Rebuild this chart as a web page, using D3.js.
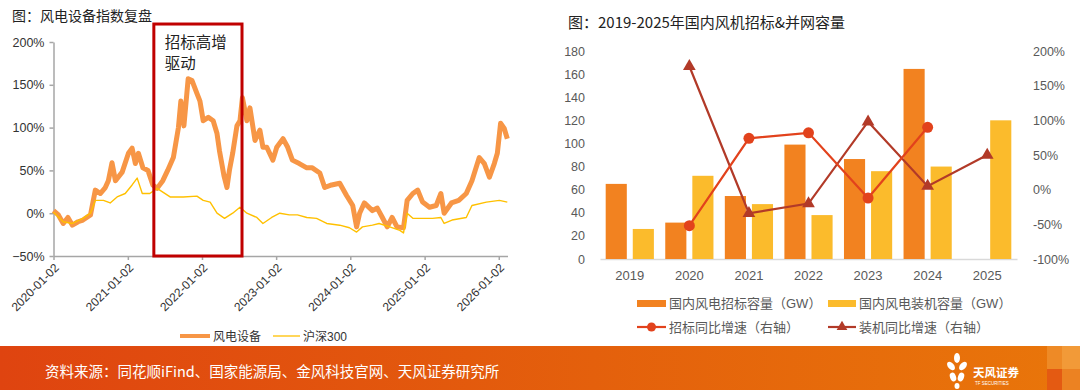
<!DOCTYPE html>
<html><head><meta charset="utf-8">
<script src="https://cdn.jsdelivr.net/npm/d3@7"></script>
<style>
body{margin:0;background:#fff;}
svg{display:block;font-family:"Liberation Sans",Arial,"Noto Sans CJK SC",sans-serif;}
</style>
</head><body>
<svg id="c" width="1080" height="390"></svg>
<script>
// ---------- Left chart data (cumulative return, %) ----------
const windDates = ["2020-01-02","2020-01-26","2020-02-19","2020-03-13","2020-04-04","2020-05-02","2020-05-26","2020-07-02","2020-07-26","2020-08-19","2020-09-13","2020-09-28","2020-10-16","2020-11-02","2020-12-05","2021-01-05","2021-01-23","2021-02-08","2021-02-23","2021-03-17","2021-04-11","2021-05-05","2021-05-26","2021-06-23","2021-07-17","2021-08-14","2021-09-08","2021-09-20","2021-10-05","2021-10-26","2021-11-14","2021-12-08","2021-12-23","2022-01-08","2022-02-02","2022-02-26","2022-03-17","2022-03-29","2022-04-20","2022-05-05","2022-05-17","2022-06-02","2022-06-23","2022-07-08","2022-07-20","2022-08-11","2022-08-26","2022-09-20","2022-10-14","2022-10-29","2022-11-17","2022-12-17","2023-01-05","2023-02-05","2023-02-28","2023-03-23","2023-04-26","2023-06-02","2023-06-29","2023-08-05","2023-08-29","2023-10-02","2023-11-11","2023-12-14","2024-01-14","2024-02-02","2024-02-17","2024-03-11","2024-04-20","2024-05-14","2024-06-08","2024-07-02","2024-07-26","2024-08-19","2024-09-20","2024-10-08","2024-11-05","2024-11-29","2024-12-23","2025-01-26","2025-02-28","2025-03-23","2025-04-08","2025-05-14","2025-06-19","2025-07-26","2025-08-23","2025-09-28","2025-10-23","2025-11-17","2025-12-11","2025-12-26","2026-01-11","2026-01-29","2026-02-13"];
const windValues = [3,-2,-12,-5,-14,-10,-8,-2,27,23,30,38,59,38,48,70,76,58,70,53,50,33,29,38,50,65,100,131,102,157,155,140,131,108,112,108,93,73,44,30,50,70,102,108,135,108,123,85,97,77,77,62,77,87,77,62,58,53,53,47,30,33,35,21,9,-16,0,12,3,6,-5,-16,-5,-16,-17,15,23,27,13,7,9,23,0,12,15,23,38,65,58,42,58,70,105,99,87];
const hsDates = ["2020-01-02","2020-02-19","2020-04-04","2020-05-26","2020-07-02","2020-07-26","2020-09-04","2020-10-07","2020-11-10","2020-12-20","2021-01-23","2021-02-17","2021-03-14","2021-04-20","2021-05-26","2021-07-29","2021-10-02","2021-12-08","2022-01-08","2022-02-11","2022-03-17","2022-04-23","2022-06-02","2022-07-08","2022-08-11","2022-09-29","2022-10-29","2022-12-11","2023-01-20","2023-03-08","2023-04-17","2023-06-02","2023-07-20","2023-09-08","2023-11-11","2023-12-29","2024-02-02","2024-03-02","2024-04-20","2024-05-23","2024-07-14","2024-09-02","2024-09-20","2024-10-08","2024-11-05","2024-12-23","2025-02-10","2025-03-23","2025-04-08","2025-05-17","2025-07-26","2025-08-23","2025-11-02","2026-01-05","2026-02-13"];
const hsValues = [1,-10,-12,-6,0,15,15,12,19,23,33,41,23,23,29,19,19,20,15,13,0,-6,0,7,0,-5,-12,-5,0,-2,-2,-5,-6,-12,-14,-17,-22,-16,-14,-12,-16,-20,-23,0,-6,-6,-6,-5,-12,-8,-5,9,13,15,13];
const leftYTicks = [-50,0,50,100,150,200];
const leftXTicks = ["2020-01-02","2021-01-02","2022-01-02","2023-01-02","2024-01-02","2025-01-02","2026-01-02"];
const leftTitle = "图：风电设备指数复盘";
const boxLabel = ["招标高增","驱动"];
const boxRange = ["2021-05-10","2022-07-18"];
const leftLegend = ["风电设备","沪深300"];

// ---------- Right chart data ----------
const years = ["2019","2020","2021","2022","2023","2024","2025"];
const tenderCap = [65,31.5,54.5,99,86.5,164.5,null];
const installCap = [26,72,47.5,38,76,80,120];
const tenderYoY = [null,-52,74,82,-12,90,null];
const installYoY = [null,178,-34,-20,98,5,50];
const rightYTicks = [0,20,40,60,80,100,120,140,160,180];
const rightY2Ticks = [-100,-50,0,50,100,150,200];
const rightTitle = "图：2019-2025年国内风机招标&并网容量";
const rightLegend = ["国内风电招标容量（GW）","国内风电装机容量（GW）","招标同比增速（右轴）","装机同比增速（右轴）"];
const sourceText = "资料来源：同花顺iFind、国家能源局、金风科技官网、天风证券研究所";

const svg = d3.select("#c");
const parse = d3.timeParse("%Y-%m-%d");
const pctFmt = d => (d < 0 ? "−" : "") + Math.abs(d) + "%";

// ================= LEFT CHART =================
const xL = d3.scaleTime().domain([parse("2020-01-02"), parse("2026-02-14")]).range([53.5, 507.5]);
const yL = d3.scaleLinear().domain([-50, 200]).range([256, 42]);

svg.append("text").attr("x", 12).attr("y", 21).attr("font-size", 14).attr("fill", "#222")
  .attr("font-family", "'Noto Sans CJK SC',sans-serif").text(leftTitle);

const gy = svg.append("g").attr("transform", "translate(53.5,0)")
  .call(d3.axisLeft(yL).tickValues(leftYTicks).tickFormat(pctFmt).tickSize(4).tickSizeOuter(0));
gy.selectAll("path,line").attr("stroke", "#a6a6a6").attr("stroke-width", 1.5);
gy.selectAll("text").attr("font-size", 12.5).attr("fill", "#333").attr("dx", "-2");

const gx = svg.append("g").attr("transform", "translate(0,256)")
  .call(d3.axisBottom(xL).tickValues(leftXTicks.map(parse)).tickFormat(d3.timeFormat("%Y-%m-%d")).tickSize(4).tickSizeOuter(0));
gx.selectAll("path,line").attr("stroke", "#a6a6a6").attr("stroke-width", 1.5);
gx.selectAll("text").attr("font-size", 12).attr("fill", "#333")
  .attr("text-anchor", "end").attr("transform", "rotate(-45)").attr("dx", "-0.4em").attr("dy", "0.5em");

const windData = windDates.map((d, i) => ({d: parse(d), v: windValues[i]}));
const hsData = hsDates.map((d, i) => ({d: parse(d), v: hsValues[i]}));
const lineL = d3.line().x(p => xL(p.d)).y(p => yL(p.v));

svg.append("path").datum(windData).attr("d", lineL).attr("fill", "none")
  .attr("stroke", "#f79646").attr("stroke-width", 5).attr("stroke-linejoin", "round");
svg.append("path").datum(hsData).attr("d", lineL).attr("fill", "none")
  .attr("stroke", "#ffc000").attr("stroke-width", 1.4).attr("stroke-linejoin", "round");

// red annotation box
const bx0 = xL(parse(boxRange[0])), bx1 = xL(parse(boxRange[1]));
svg.append("rect").attr("x", bx0).attr("y", yL(221)).attr("width", bx1 - bx0).attr("height", yL(-50) - yL(221))
  .attr("fill", "none").attr("stroke", "#c00000").attr("stroke-width", 3);
boxLabel.forEach((t, i) => {
  svg.append("text").attr("x", bx0 + 11).attr("y", 48 + i * 21).attr("font-size", 15.5).attr("fill", "#222").text(t);
});

// left legend
svg.append("line").attr("x1", 180).attr("x2", 210).attr("y1", 336).attr("y2", 336)
  .attr("stroke", "#f79646").attr("stroke-width", 4);
svg.append("text").attr("x", 213).attr("y", 340.5).attr("font-size", 12).attr("fill", "#333").text(leftLegend[0]);
svg.append("line").attr("x1", 273).attr("x2", 300).attr("y1", 336).attr("y2", 336)
  .attr("stroke", "#ffc000").attr("stroke-width", 1.3);
svg.append("text").attr("x", 303).attr("y", 340.5).attr("font-size", 12).attr("fill", "#333").text(leftLegend[1]);

// ================= RIGHT CHART =================
svg.append("text").attr("x", 568).attr("y", 28).attr("font-size", 15).attr("fill", "#222")
  .attr("font-family", "'Noto Sans CJK SC',sans-serif").text(rightTitle);

const xR = d3.scaleBand().domain(years).range([600, 1017]);
const xi = d3.scaleBand().domain(["t", "i"]).range([0, xR.bandwidth()]).paddingInner(0.22).paddingOuter(0.21);
const yR = d3.scaleLinear().domain([0, 180]).range([259, 51]);
const yR2 = d3.scaleLinear().domain([-100, 200]).range([259, 51]);

const gyr = svg.append("g").attr("transform", "translate(591,0)")
  .call(d3.axisLeft(yR).tickValues(rightYTicks).tickSize(0));
gyr.select(".domain").remove();
gyr.selectAll("text").attr("font-size", 12.5).attr("fill", "#595959").attr("dx", "-3");

const gyr2 = svg.append("g").attr("transform", "translate(1027,0)")
  .call(d3.axisRight(yR2).tickValues(rightY2Ticks).tickFormat(d => d + "%").tickSize(0));
gyr2.select(".domain").remove();
gyr2.selectAll("text").attr("font-size", 12.5).attr("fill", "#595959").attr("dx", "3");

const gxr = svg.append("g").attr("transform", "translate(0,259)")
  .call(d3.axisBottom(xR).tickSize(0));
gxr.select(".domain").attr("stroke", "#d9d9d9").attr("stroke-width", 1.5);
gxr.selectAll("text").attr("font-size", 13).attr("fill", "#595959").attr("dy", "1.4em");

// bars
svg.append("g").selectAll("rect").data(years.filter((y, i) => tenderCap[i] != null)).join("rect")
  .attr("x", y => xR(y) + xi("t")).attr("width", xi.bandwidth())
  .attr("y", y => yR(tenderCap[years.indexOf(y)])).attr("height", y => yR(0) - yR(tenderCap[years.indexOf(y)]))
  .attr("fill", "#f28220");
svg.append("g").selectAll("rect").data(years).join("rect")
  .attr("x", y => xR(y) + xi("i")).attr("width", xi.bandwidth())
  .attr("y", (y, i) => yR(installCap[i])).attr("height", (y, i) => yR(0) - yR(installCap[i]))
  .attr("fill", "#fbbb2c");

// lines
const cx = y => xR(y) + xR.bandwidth() / 2;
const tData = years.map((y, i) => ({y, v: tenderYoY[i]})).filter(d => d.v != null);
const iData = years.map((y, i) => ({y, v: installYoY[i]})).filter(d => d.v != null);
const lineR = d3.line().x(d => cx(d.y)).y(d => yR2(d.v));

svg.append("path").datum(iData).attr("d", lineR).attr("fill", "none").attr("stroke", "#b23a28").attr("stroke-width", 2.2);
svg.append("g").selectAll("path").data(iData).join("path")
  .attr("d", d3.symbol(d3.symbolTriangle).size(70))
  .attr("transform", d => `translate(${cx(d.y)},${yR2(d.v)})`).attr("fill", "#b23a28");

svg.append("path").datum(tData).attr("d", lineR).attr("fill", "none").attr("stroke", "#e2421c").attr("stroke-width", 2.2);
svg.append("g").selectAll("circle").data(tData).join("circle")
  .attr("cx", d => cx(d.y)).attr("cy", d => yR2(d.v)).attr("r", 5.5).attr("fill", "#e2421c");

// right legend
const lg = svg.append("g").attr("font-size", 13).attr("fill", "#595959");
lg.append("rect").attr("x", 637).attr("y", 300).attr("width", 29).attr("height", 7).attr("fill", "#f28220");
lg.append("text").attr("x", 669).attr("y", 308).text(rightLegend[0]);
lg.append("rect").attr("x", 828).attr("y", 300).attr("width", 28).attr("height", 7).attr("fill", "#fbbb2c");
lg.append("text").attr("x", 859).attr("y", 308).text(rightLegend[1]);
lg.append("line").attr("x1", 637).attr("x2", 666).attr("y1", 327).attr("y2", 327).attr("stroke", "#e2421c").attr("stroke-width", 2.2);
lg.append("circle").attr("cx", 651.5).attr("cy", 327).attr("r", 4.5).attr("fill", "#e2421c");
lg.append("text").attr("x", 669).attr("y", 332).text(rightLegend[2]);
lg.append("line").attr("x1", 828).attr("x2", 856).attr("y1", 327).attr("y2", 327).attr("stroke", "#b23a28").attr("stroke-width", 2.2);
lg.append("path").attr("d", d3.symbol(d3.symbolTriangle).size(50)).attr("transform", "translate(842,327)").attr("fill", "#b23a28");
lg.append("text").attr("x", 859).attr("y", 332).text(rightLegend[3]);

// ================= FOOTER =================
const defs = svg.append("defs");
const grad = defs.append("linearGradient").attr("id", "fg").attr("x1", "0").attr("x2", "1").attr("y1", "0").attr("y2", "0");
grad.append("stop").attr("offset", "0%").attr("stop-color", "#df4410");
grad.append("stop").attr("offset", "55%").attr("stop-color", "#e4600c");
grad.append("stop").attr("offset", "100%").attr("stop-color", "#e9760a");
svg.append("rect").attr("x", 0).attr("y", 346).attr("width", 1080).attr("height", 44).attr("fill", "url(#fg)");
svg.append("rect").attr("x", 1047).attr("y", 346).attr("width", 15).attr("height", 23).attr("fill", "#ee8a26");
svg.append("rect").attr("x", 1062).attr("y", 346).attr("width", 18).attr("height", 23).attr("fill", "#f29a38");
svg.append("rect").attr("x", 1047).attr("y", 369).attr("width", 15).attr("height", 21).attr("fill", "#e45a12");
svg.append("rect").attr("x", 1062).attr("y", 369).attr("width", 18).attr("height", 21).attr("fill", "#ec8222");

svg.append("text").attr("x", 45).attr("y", 377).attr("font-size", 14.5).attr("fill", "#fff")
  .attr("font-family", "'Noto Sans CJK SC',sans-serif").text(sourceText);

// logo
const logo = svg.append("g").attr("fill", "#fff");
[[957,358,3,5,0],[951,366,3,5,-40],[963,366,3,5,40],[953,377,3,4.5,-20],[961,377,3,4.5,20],[957,386,2.5,3,0]].forEach(p => {
  logo.append("ellipse").attr("cx", p[0]).attr("cy", p[1]).attr("rx", p[2]).attr("ry", p[3])
    .attr("transform", `rotate(${p[4]},${p[0]},${p[1]})`);
});
logo.append("text").attr("x", 973).attr("y", 377).attr("font-size", 11.5).attr("font-weight", "bold")
  .attr("font-family", "'Noto Sans CJK SC',sans-serif").text("天风证券");
logo.append("text").attr("x", 975).attr("y", 385).attr("font-size", 4.5).text("TF SECURITIES");
</script>
</body></html>
